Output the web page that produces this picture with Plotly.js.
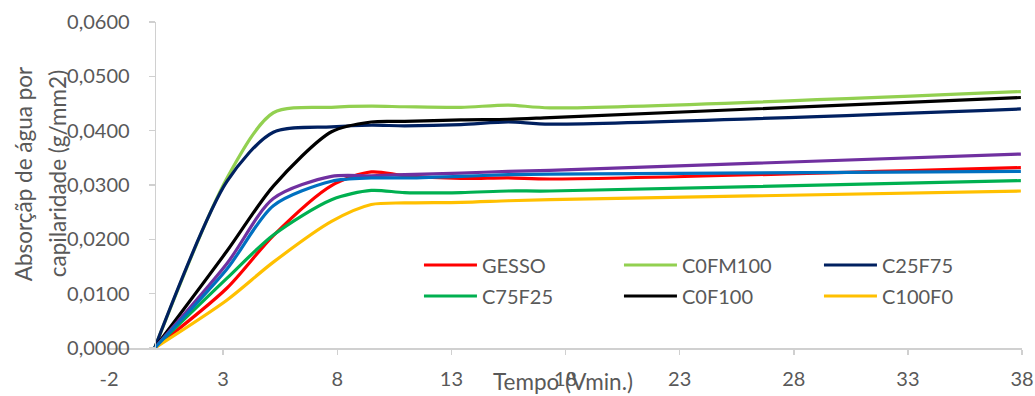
<!DOCTYPE html>
<html>
<head>
<meta charset="utf-8">
<script src="https://cdn.plot.ly/plotly-3.0.1.min.js"></script>
<style>
  html, body { margin: 0; padding: 0; background: #ffffff; }
  #chart { width: 1035px; height: 396px; }
</style>
</head>
<body>
<div id="chart"></div>
<script>
// Capillary water absorption versus square root of time
const tempo = [0, 3.16, 5.2, 7.75, 9.49, 10.95, 13.42, 15.49, 17.32, 37.95];

const gesso   = [0, 0.0110, 0.0207, 0.0299, 0.0324, 0.0317, 0.0312, 0.0313, 0.0311, 0.0332];
const c0fm100 = [0, 0.0312, 0.0433, 0.0443, 0.0445, 0.0444, 0.0443, 0.0447, 0.0442, 0.0472];
const c25f75  = [0, 0.0306, 0.0397, 0.0407, 0.0410, 0.0409, 0.0411, 0.0416, 0.0412, 0.0440];
const c75f25  = [0, 0.0128, 0.0208, 0.0273, 0.0290, 0.0286, 0.0286, 0.0289, 0.0289, 0.0308];
const c0f100  = [0, 0.0178, 0.0298, 0.0398, 0.0416, 0.0417, 0.0420, 0.0421, 0.0424, 0.0461];
const c100f0  = [0, 0.0088, 0.0158, 0.0233, 0.0264, 0.0267, 0.0268, 0.0271, 0.0273, 0.0289];
const serie7  = [0, 0.0155, 0.0275, 0.0316, 0.0317, 0.0319, 0.0322, 0.0325, 0.0327, 0.0357];
const serie8  = [0, 0.0145, 0.0262, 0.0307, 0.0313, 0.0313, 0.0316, 0.0319, 0.0320, 0.0325];

const xTickVals = [-2, 3, 8, 13, 18, 23, 28, 33, 38];
const xTickText = ['-2', '3', '8', '13', '18', '23', '28', '33', '38'];
const yTickVals = [0, 0.01, 0.02, 0.03, 0.04, 0.05, 0.06];

const series = [
  { name: 'GESSO',   y: gesso,   color: '#FF0000', legend: 'legend'  },
  { name: 'C0FM100', y: c0fm100, color: '#92D050', legend: 'legend'  },
  { name: 'C25F75',  y: c25f75,  color: '#002060', legend: 'legend'  },
  { name: 'C75F25',  y: c75f25,  color: '#00B050', legend: 'legend2' },
  { name: 'C0F100',  y: c0f100,  color: '#000000', legend: 'legend2' },
  { name: 'C100F0',  y: c100f0,  color: '#FFC000', legend: 'legend2' },
  { name: 'serie7',  y: serie7,  color: '#7030A0', legend: null },
  { name: 'serie8',  y: serie8,  color: '#0070C0', legend: null }
];

const traces = series.map(s => {
  const t = {
    type: 'scatter',
    mode: 'lines',
    x: tempo,
    y: s.y,
    name: s.name,
    line: { color: s.color, width: 3.2, shape: 'spline', smoothing: 0.8 },
    hoverinfo: 'skip'
  };
  if (s.legend) { t.legend = s.legend; } else { t.showlegend = false; }
  return t;
});

const axisGrey = '#d0d0d0';
const textGrey = '#595959';
const fontFamily = 'Lato, "Open Sans", sans-serif';

const legendCommon = {
  orientation: 'h',
  xanchor: 'left',
  yanchor: 'middle',
  x: 0.3395,
  itemwidth: 53,
  entrywidth: 132,
  bgcolor: 'rgba(0,0,0,0)',
  borderwidth: 0,
  font: { family: fontFamily, size: 20, color: textGrey }
};

const layout = {
  width: 1035,
  height: 396,
  margin: { l: 109, r: 13, t: 22, b: 48, pad: 0 },
  paper_bgcolor: '#ffffff',
  plot_bgcolor: '#ffffff',
  separators: ',.',
  font: { family: fontFamily, size: 20, color: textGrey },
  showlegend: true,
  legend: Object.assign({}, legendCommon, { y: 0.2546 }),
  legend2: Object.assign({}, legendCommon, { y: 0.1595 }),
  xaxis: {
    range: [-2, 38],
    tickmode: 'array',
    tickvals: xTickVals,
    ticktext: xTickText,
    showgrid: false,
    zeroline: false,
    showline: true,
    linecolor: axisGrey,
    linewidth: 1.5,
    ticks: 'outside',
    ticklen: 5,
    tickwidth: 1.5,
    tickcolor: axisGrey,
    ticklabelstandoff: 7,
    tickfont: { family: fontFamily, size: 20, color: textGrey }
  },
  yaxis: {
    range: [0, 0.06],
    tickmode: 'array',
    tickvals: yTickVals,
    tickformat: '.4f',
    anchor: 'free',
    position: 0.05,
    showgrid: false,
    zeroline: false,
    showline: true,
    linecolor: axisGrey,
    linewidth: 1.5,
    ticks: 'outside',
    ticklen: 6,
    tickwidth: 1.5,
    tickcolor: axisGrey,
    ticklabelstandoff: 15,
    tickfont: { family: fontFamily, size: 20, color: textGrey }
  },
  annotations: [
    {
      text: 'Tempo (Vmin.)',
      xref: 'paper', yref: 'paper',
      x: 0.4973, y: -0.104,
      xanchor: 'center', yanchor: 'middle',
      showarrow: false,
      font: { family: fontFamily, size: 22.5, color: textGrey }
    },
    {
      text: 'Absorçãp de água por',
      xref: 'paper', yref: 'paper',
      x: -0.0942, y: 0.536,
      xanchor: 'center', yanchor: 'middle',
      textangle: -90,
      showarrow: false,
      font: { family: fontFamily, size: 22.5, color: textGrey }
    },
    {
      text: 'capilaridade (g/mm2)',
      xref: 'paper', yref: 'paper',
      x: -0.057, y: 0.536,
      xanchor: 'center', yanchor: 'middle',
      textangle: -90,
      showarrow: false,
      font: { family: fontFamily, size: 22.5, color: textGrey }
    }
  ]
};

Plotly.newPlot('chart', traces, layout, { staticPlot: true, displayModeBar: false });
</script>
</body>
</html>
